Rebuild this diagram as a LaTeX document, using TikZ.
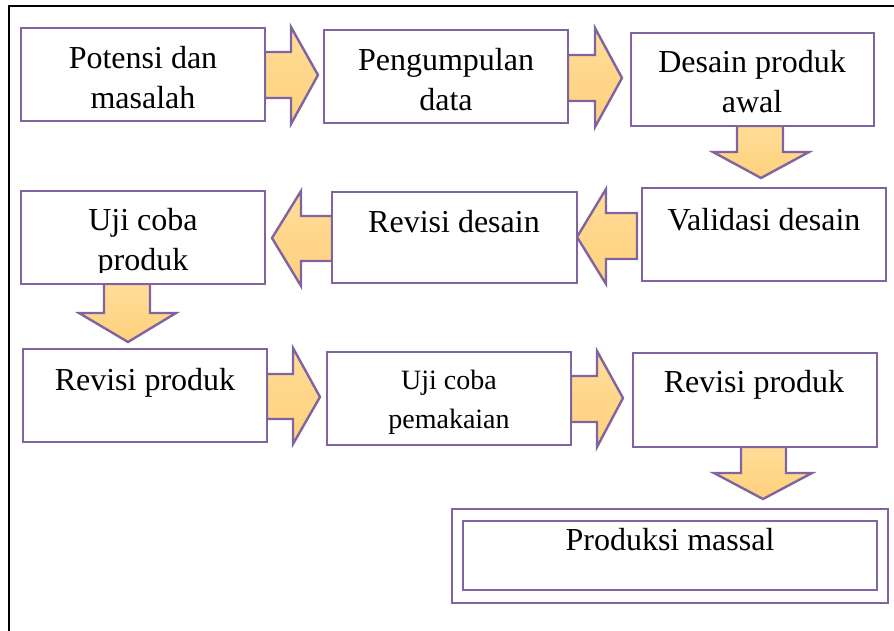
\documentclass[tikz,border=0pt]{standalone}
\usepackage{fontspec}
\setmainfont{Liberation Serif}
\definecolor{boxline}{HTML}{8064A2}
\definecolor{arrowtop}{HTML}{FFDD98}
\definecolor{arrowbot}{HTML}{FFD07C}
\begin{document}
\begin{tikzpicture}[x=1pt,y=-1pt,
  box/.style={draw=boxline,line width=2.4pt,fill=white},
  bigarrow/.style={draw=boxline,line width=2.4pt,line join=miter,top color=arrowtop,bottom color=arrowbot},
  lbl/.style={anchor=base,inner sep=0pt,font=\fontsize{32}{40}\selectfont},
  lblsmall/.style={anchor=base,inner sep=0pt,font=\fontsize{28}{39}\selectfont},
  frame/.style={draw=black,line width=2.6pt}
]
\useasboundingbox (0,0) rectangle (894,630);
\begin{scope}
\clip (0,0) rectangle (894,630);
\draw[frame] (9,640) -- (9,6) -- (900,6);
\end{scope}

% arrows (drawn first, boxes on top)
\draw[bigarrow] (265,52) -- (291,52) -- (291,27) -- (318,75) -- (291,124) -- (291,98) -- (265,98) -- cycle;
\draw[bigarrow] (568,55) -- (595,55) -- (595,28) -- (622,78) -- (595,127) -- (595,101) -- (568,101) -- cycle;
\draw[bigarrow] (737,126) -- (737,152) -- (713,152) -- (761,178) -- (809,152) -- (783,152) -- (783,126) -- cycle;
\draw[bigarrow] (637,213) -- (606,213) -- (606,189) -- (577,237) -- (606,284) -- (606,259) -- (637,259) -- cycle;
\draw[bigarrow] (332,216) -- (301,216) -- (301,191) -- (272,238) -- (301,286) -- (301,261) -- (332,261) -- cycle;
\draw[bigarrow] (104,284) -- (104,313) -- (79,313) -- (128,342) -- (176,313) -- (150,313) -- (150,284) -- cycle;
\draw[bigarrow] (267,374) -- (293,374) -- (293,348) -- (320,397) -- (293,444) -- (293,419) -- (267,419) -- cycle;
\draw[bigarrow] (571,376) -- (597,376) -- (597,351) -- (623,398) -- (597,447) -- (597,422) -- (571,422) -- cycle;
\draw[bigarrow] (741,447) -- (741,473) -- (714,473) -- (763,499) -- (812,473) -- (786,473) -- (786,447) -- cycle;

% boxes
\draw[box] (21,28) rectangle (265,121) coordinate (b1);
\draw[box] (324,30) rectangle (568,123) coordinate (b2);
\draw[box] (631,33) rectangle (874,126) coordinate (b3);
\draw[box] (642,188) rectangle (886,281) coordinate (b4);
\draw[box] (332,192) rectangle (577,283) coordinate (b5);
\draw[box] (21,191) rectangle (265,284) coordinate (b6);
\draw[box] (23,349) rectangle (267,442) coordinate (b7);
\draw[box] (327,352) rectangle (571,445) coordinate (b8);
\draw[box] (633,353) rectangle (877,447) coordinate (b9);
\draw[box] (452,509) rectangle (888,603) coordinate (b10);
\draw[box] (463,521) rectangle (877,590) coordinate (b10i);

% labels
\node[lbl] (t1) at (143,68) {\begin{tabular}[t]{@{}c@{}}Potensi dan\\masalah\end{tabular}};
\node[lbl] (t2) at (446,70) {\begin{tabular}[t]{@{}c@{}}Pengumpulan\\data\end{tabular}};
\node[lbl] (t3) at (752,72) {\begin{tabular}[t]{@{}c@{}}Desain produk\\awal\end{tabular}};
\node[lbl] (t4) at (764,230) {Validasi desain};
\node[lbl] (t5) at (454,232) {Revisi desain};
\begin{scope}
\clip (22,192) rectangle (264,272);
\node[lbl] (t6) at (143,230) {\begin{tabular}[t]{@{}c@{}}Uji coba\\produk\end{tabular}};
\end{scope}
\node[lbl] (t7) at (145,390) {Revisi produk};
\node[lblsmall] (t8) at (449,389) {\begin{tabular}[t]{@{}c@{}}Uji coba\\pemakaian\end{tabular}};
\node[lbl] (t9) at (754,392) {Revisi produk};
\node[lbl] (t10) at (670,550) {Produksi massal};
\end{tikzpicture}
\end{document}
